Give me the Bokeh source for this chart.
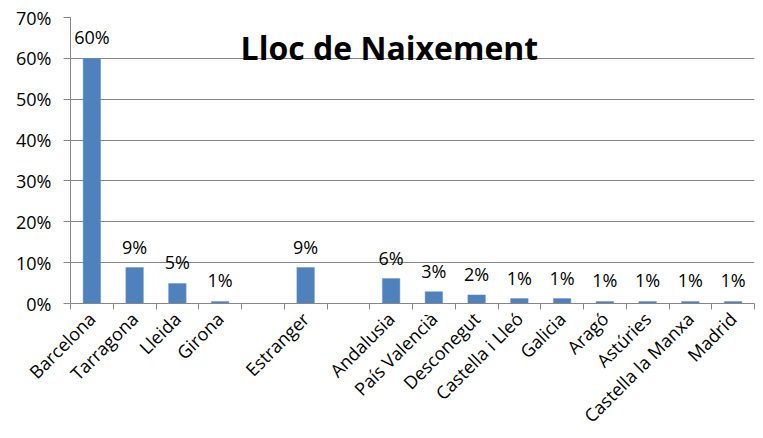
from bokeh.plotting import figure
from bokeh.models import FixedTicker, ColumnDataSource, LabelSet, Label, NumeralTickFormatter, Range1d
from bokeh.core.properties import value
from bokeh.embed import file_html
from bokeh.resources import INLINE
import math

categories = ["Barcelona", "Tarragona", "Lleida", "Girona", "", "Estranger", "",
              "Andalusia", "País Valencià", "Desconegut", "Castella i Lleó", "Galicia",
              "Aragó", "Astúries", "Castella la Manxa", "Madrid"]
values = [0.600, 0.088, 0.049, 0.005, None, 0.088, None,
          0.061, 0.029, 0.021, 0.012, 0.012, 0.005, 0.005, 0.005, 0.005]
value_labels = ["60%", "9%", "5%", "1%", "", "9%", "",
                "6%", "3%", "2%", "1%", "1%", "1%", "1%", "1%", "1%"]
y_ticks = [0.0, 0.1, 0.2, 0.3, 0.4, 0.5, 0.6, 0.7]
title_text = "Lloc de Naixement"

FONT = "Open Sans"
GRAY = "#868686"

n = len(categories)
centers = [i + 0.5 for i in range(n)]
idx = [i for i in range(n) if categories[i] != ""]
src = ColumnDataSource(dict(
    x=[centers[i] for i in idx],
    top=[values[i] for i in idx],
    lab=[value_labels[i] for i in idx],
))

p = figure(width=763, height=438, output_backend="svg", toolbar_location=None,
           x_range=Range1d(0, n), y_range=Range1d(0, 0.7),
           min_border_left=70, min_border_right=9, min_border_top=17, min_border_bottom=135)
p.outline_line_color = None
p.background_fill_color = "white"

p.vbar(x="x", top="top", bottom=0, width=0.41, source=src,
       fill_color="#4F81BD", line_color="#6F97C8", line_width=0.5)

labels = LabelSet(x="x", y="top", text="lab", source=src, text_align="center",
                  text_baseline="alphabetic", y_offset=14, text_font=value(FONT),
                  text_font_size=value("18px"), text_color=value("#000000"))
p.add_layout(labels)

p.add_layout(Label(x=7.46, y=0.6266, text=title_text,
                   text_align="center", text_baseline="alphabetic", text_font=FONT,
                   text_font_style="bold", text_font_size="32px", text_color="#000000"))

# x axis
p.xaxis.ticker = FixedTicker(ticks=centers, minor_ticks=list(range(n + 1)))
p.xaxis.major_label_overrides = {c: lab for c, lab in zip(centers, categories)}
p.xaxis.major_label_orientation = math.pi / 4
p.xaxis.major_tick_out = 0
p.xaxis.major_tick_in = 0
p.xaxis.minor_tick_out = 6
p.xaxis.minor_tick_in = 0
p.xaxis.minor_tick_line_color = GRAY
p.xaxis.axis_line_color = GRAY
p.xaxis.major_label_text_font = FONT
p.xaxis.major_label_text_font_size = "18px"
p.xaxis.major_label_text_color = "#000000"
p.xaxis.major_label_standoff = 6
p.xgrid.grid_line_color = None

# y axis
p.yaxis.ticker = FixedTicker(ticks=y_ticks, minor_ticks=[])
p.yaxis.formatter = NumeralTickFormatter(format="0%")
p.yaxis.major_tick_out = 7
p.yaxis.major_tick_in = 0
p.yaxis.major_tick_line_color = GRAY
p.yaxis.minor_tick_line_color = None
p.yaxis.axis_line_color = GRAY
p.yaxis.major_label_text_font = FONT
p.yaxis.major_label_text_font_size = "18px"
p.yaxis.major_label_text_color = "#000000"
p.yaxis.major_label_standoff = 12
p.ygrid.grid_line_color = GRAY
p.ygrid.grid_line_width = 1

open("out.html", "w").write(file_html(p, INLINE))
